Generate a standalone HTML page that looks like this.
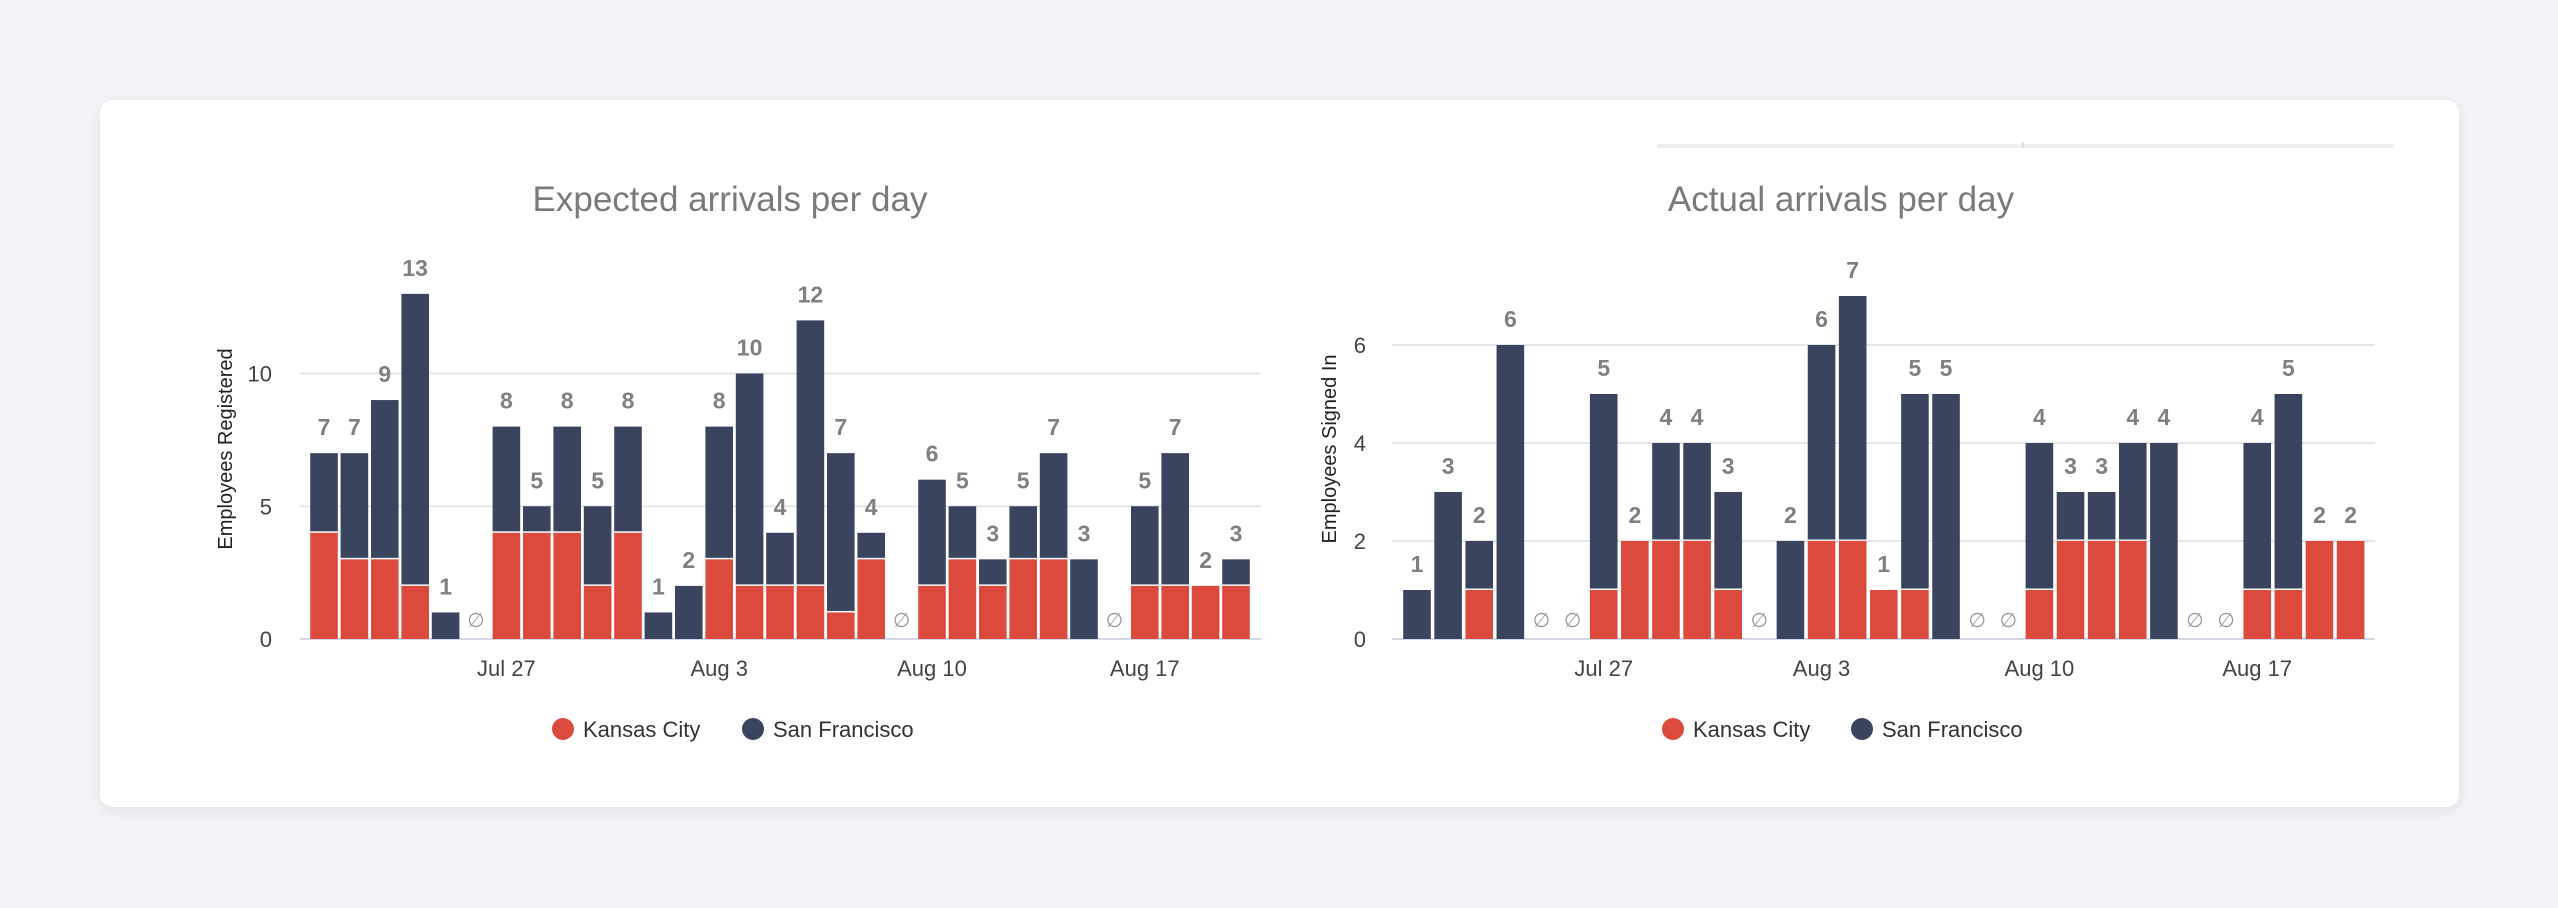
<!DOCTYPE html>
<html><head><meta charset="utf-8"><style>
html,body{margin:0;padding:0;background:#f3f3f7;width:2558px;height:908px;overflow:hidden}
svg{display:block}
text{font-family:"Liberation Sans",sans-serif}
</style></head><body>
<svg id="root" width="2558" height="908" xmlns="http://www.w3.org/2000/svg">
<defs><filter id="sh" x="-5%" y="-5%" width="110%" height="115%"><feDropShadow dx="0" dy="3" stdDeviation="6" flood-color="#000" flood-opacity="0.07"/></filter></defs>
<rect x="100" y="100" width="2359" height="707" rx="13" fill="#fff" filter="url(#sh)"/>
<rect x="1657" y="144" width="737" height="4" fill="#efeff1"/>
<rect x="2022" y="142" width="2" height="6" fill="#ddd"/>
<g id="c1"></g>
<g id="c2"></g>
</svg>
<script>
const NS='http://www.w3.org/2000/svg';
const xLabels=['Jul 27','Aug 3','Aug 10','Aug 17'];
const xLabelSlots=[6,13,20,27];
const expKC=[4,3,3,2,0,null,4,4,4,2,4,0,0,3,2,2,2,1,3,null,2,3,2,3,3,0,null,2,2,2,2];
const expTotal=[7,7,9,13,1,null,8,5,8,5,8,1,2,8,10,4,12,7,4,null,6,5,3,5,7,3,null,5,7,2,3];
const expTicks=[0,5,10];
const actKC=[0,0,1,0,null,null,1,2,2,2,1,null,0,2,2,1,1,0,null,null,1,2,2,2,0,null,null,1,1,2,2];
const actTotal=[1,3,2,6,null,null,5,2,4,4,3,null,2,6,7,1,5,5,null,null,4,3,3,4,4,null,null,4,5,2,2];
const actTicks=[0,2,4,6];
function el(p,tag,attrs,txt){const e=document.createElementNS(NS,tag);for(const k in attrs)e.setAttribute(k,attrs[k]);if(txt!=null)e.textContent=txt;p.appendChild(e);return e;}
function draw(g,cfg){
  const base=639, unit=cfg.unit;
  const y=v=>base-v*unit;
  const x=i=>cfg.x0+i*cfg.pitch;
  const bw=27.6;
  cfg.ticks.forEach(t=>{
    if(t>0){const l=el(g,'line',{x1:cfg.gx0,x2:cfg.gx1,y1:y(t),y2:y(t),stroke:'#e6e6e9','stroke-width':2});
    }
    const tl=el(g,'text',{x:cfg.tickX,y:y(t)+8,'text-anchor':'end','font-size':22,fill:'#444'},t);
    
  });
  const bl=el(g,'line',{x1:cfg.gx0,x2:cfg.gx1,y1:base,y2:base,stroke:'#d3d7e6','stroke-width':2});
  
  cfg.total.forEach((tot,i)=>{
    const cx=x(i)+bw/2;
    if(tot==null){const n=el(g,'text',{x:cx,y:base-12,'text-anchor':'middle','font-size':20,fill:'#999'},'\u2205');
      return;}
    const kc=cfg.kc[i], sf=tot-kc;
    if(kc>0){const r=el(g,'rect',{x:x(i),y:y(kc),width:bw,height:kc*unit,fill:'#dc4a3e'});
      }
    if(sf>0){const r=el(g,'rect',{x:x(i),y:y(tot),width:bw,height:sf*unit-(kc>0?1.5:0),fill:'#3b445f'});
      }
    const v=el(g,'text',{x:cx,y:y(tot)-18,'text-anchor':'middle','font-size':23,'font-weight':'bold',fill:'#808080'},tot);
    
  });
  xLabels.forEach((lb,k)=>{
    const t=el(g,'text',{x:x(xLabelSlots[k])+bw/2,y:676,'text-anchor':'middle','font-size':22,fill:'#444'},lb);
    
  });
  const yt=el(g,'text',{x:0,y:0,transform:`translate(${cfg.ytX},${cfg.ytY}) rotate(-90)`,'text-anchor':'middle','font-size':20,fill:'#222'},cfg.ytitle);
  
  const ti=el(g,'text',{x:cfg.titleX,y:211,'text-anchor':'middle','font-size':35,fill:'#7a7a7a'},cfg.title);
  
  const lg=[['#dc4a3e','Kansas City',cfg.lgx[0]],['#3b445f','San Francisco',cfg.lgx[1]]];
  lg.forEach(([c,n,lx])=>{
    const gg=el(g,'g',{});
    
    el(gg,'circle',{cx:lx,cy:729,r:11,fill:c});
    el(gg,'text',{x:lx+20,y:737,'font-size':22,fill:'#333'},n);
  });
}
draw(document.getElementById('c1'),{kc:expKC,total:expTotal,ticks:expTicks,unit:26.55,x0:310.2,pitch:30.4,gx0:300,gx1:1261,tickX:272,ytX:232,ytY:449,ytitle:'Employees Registered',title:'Expected arrivals per day',titleX:730,lgx:[563,753]});
draw(document.getElementById('c2'),{kc:actKC,total:actTotal,ticks:actTicks,unit:49.0,x0:1403.2,pitch:31.12,gx0:1392,gx1:2375,tickX:1366,ytX:1336,ytY:449,ytitle:'Employees Signed In',title:'Actual arrivals per day',titleX:1841,lgx:[1673,1862]});
</script>
</body></html>
